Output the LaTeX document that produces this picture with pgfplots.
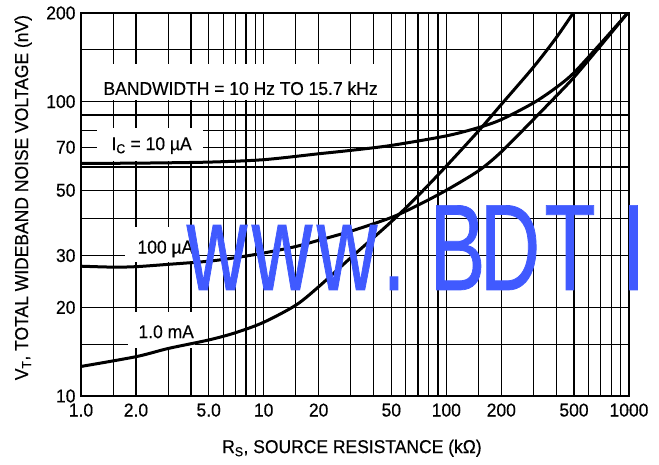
\documentclass[border=0pt]{standalone}
\usepackage{fontspec}
\setmainfont{Liberation Sans}[FakeStretch=0.94, FakeBold=0.4]
\newfontfamily\wmfont{Liberation Sans}[FakeStretch=0.68, FakeBold=0.6]
\usepackage{pgfplots}
\pgfplotsset{compat=1.18}
\definecolor{wmblue}{RGB}{64,90,255}

\begin{document}
\begin{tikzpicture}[font=\fontsize{18.6}{21}\selectfont]
\path (0,0) rectangle (659pt,464pt);
\begin{axis}[
  at={(81pt,68pt)}, anchor=south west,
  scale only axis, width=548pt, height=383pt,
  xmode=log, ymode=log, xmin=1, xmax=1000, ymin=10, ymax=200,
  xtick={1,1.5,2,3,4,5,6,7,8,9,10,15,20,30,40,50,60,70,80,90,100,150,200,300,400,500,600,700,800,900,1000},
  xticklabels={1.0,,2.0,,,5.0,,,,,10,,20,,,50,,,,,100,,200,,,500,,,,,1000},
  ytick={10,15,20,30,40,50,60,70,80,90,100,150,200},
  yticklabels={10,,20,30,,50,,70,,,100,,200},
  minor tick num=0,
  grid=major,
  major grid style={black, line width=1.2pt},
  major tick length=0pt,
  axis line style={black, line width=1.2pt},
  xticklabel style={yshift=-4pt},
  yticklabel style={xshift=-2pt},
  every axis x label/.style={at={(axis description cs:0.4945,-0.149)}, anchor=base},
  every axis y label/.style={at={(axis description cs:-0.0967,0.518)}, rotate=90, anchor=base},
  xlabel={R\textsubscript{S}, SOURCE RESISTANCE (kΩ)},
  ylabel={V\textsubscript{T}, TOTAL WIDEBAND NOISE VOLTAGE (nV)},
]
% white label boxes
\fill[white] (rel axis cs:0.0128,0.773) rectangle (rel axis cs:0.551,0.867);
\fill[white] (rel axis cs:0.0292,0.6136) rectangle (rel axis cs:0.2226,0.6997);
\fill[white] (rel axis cs:0.0803,0.350) rectangle (rel axis cs:0.2044,0.441);
\fill[white] (rel axis cs:0.0858,0.125) rectangle (rel axis cs:0.208,0.219);

% IC = 10 uA
\addplot[black, line width=3pt, smooth] coordinates {
(1,61.7) (2,61.8) (5,62.3) (10,63.5) (20,66.5) (30,68.3) (50,71.0) (100,76.5)
(150,81.6) (200,86.9) (300,99.0) (400,111.7) (500,125.4) (700,157.6) (980,199.5)
};
% IC = 100 uA
\addplot[black, line width=3pt, smooth] coordinates {
(1,27.6) (1.5,27.4) (2,27.5) (3,28.0) (5,28.7) (7,29.5) (10,30.6) (15,32.2)
(20,33.8) (30,36.3) (50,40.4) (70,44.5) (100,50.0) (150,58.2) (200,67.5)
(300,87) (400,104.5) (500,121) (700,155) (980,199.5)
};
% IC = 1.0 mA
\addplot[black, line width=3pt, smooth] coordinates {
(1,12.6) (2,13.6) (3,14.5) (5,15.5) (7,16.4) (10,17.8) (15,20.35) (20,23.5)
(30,29.5) (50,39.1) (70,47.9) (100,60.4) (150,79.5) (200,97.8) (300,131)
(400,165) (495,200)
};

\node[anchor=base west] at (rel axis cs:0.0347,0.786) {BANDWIDTH = 10 Hz TO 15.7 kHz};
\node[anchor=base west] at (rel axis cs:0.0493,0.642) {I\textsubscript{C} = 10 µA};
\node[anchor=base west] at (rel axis cs:0.0967,0.372) {100 µA};
\node[anchor=base west] at (rel axis cs:0.0985,0.151) {1.0 mA};

\draw[black, line width=2.6pt] (rel axis cs:0,1) -- (rel axis cs:0,0) -- (rel axis cs:1,0);
\end{axis}

% watermark
\begin{scope}[every node/.style={anchor=base, text=wmblue, inner sep=0pt,
    font=\wmfont\fontsize{123}{123}\selectfont}]
\node at (217pt,174pt) {w};
\node at (282pt,174pt) {w};
\node at (347pt,174pt) {w};
\node at (394pt,174pt) {.};
\node at (457.5pt,174pt) {B};
\node at (510pt,174pt) {D};
\node at (570pt,174pt) {T};
\node at (633.5pt,174pt) {I};
\end{scope}
\end{tikzpicture}
\end{document}
